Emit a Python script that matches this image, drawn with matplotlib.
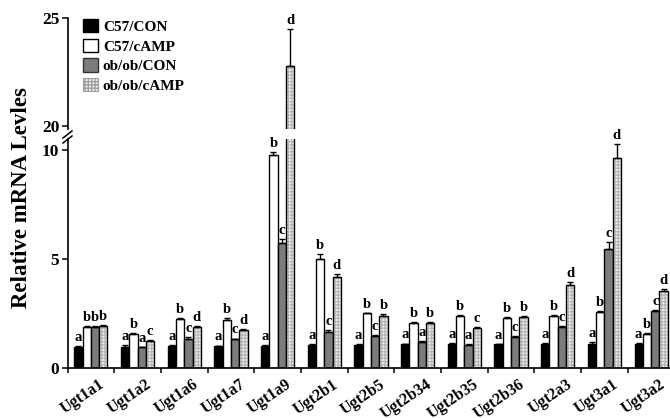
import matplotlib
matplotlib.use("Agg")
import matplotlib.pyplot as plt
import matplotlib.transforms as mtransforms
from matplotlib.patches import Patch
from matplotlib.lines import Line2D
import numpy as np

genes = ['Ugt1a1', 'Ugt1a2', 'Ugt1a6', 'Ugt1a7', 'Ugt1a9', 'Ugt2b1', 'Ugt2b5',
         'Ugt2b34', 'Ugt2b35', 'Ugt2b36', 'Ugt2a3', 'Ugt3a1', 'Ugt3a2']

c57_con = [0.98, 0.97, 1.02, 1.00, 1.03, 1.05, 1.05, 1.09, 1.12, 1.08, 1.11, 1.12, 1.12]
c57_camp = [1.89, 1.58, 2.26, 2.20, 9.75, 4.99, 2.51, 2.05, 2.37, 2.29, 2.40, 2.55, 1.58]
ob_con = [1.89, 0.94, 1.35, 1.31, 5.74, 1.66, 1.48, 1.19, 1.05, 1.43, 1.89, 5.44, 2.60]
ob_camp = [1.92, 1.25, 1.86, 1.75, 22.8, 4.17, 2.40, 2.05, 1.83, 2.32, 3.79, 9.61, 3.51]

c57_con_err = [0.03, 0.07, 0.03, 0.03, 0.04, 0.04, 0.03, 0.03, 0.04, 0.03, 0.03, 0.09, 0.04]
c57_camp_err = [0.03, 0.04, 0.04, 0.08, 0.15, 0.22, 0.03, 0.05, 0.04, 0.04, 0.04, 0.07, 0.04]
ob_con_err = [0.03, 0.03, 0.05, 0.04, 0.19, 0.08, 0.05, 0.05, 0.04, 0.04, 0.04, 0.32, 0.04]
ob_camp_err = [0.04, 0.04, 0.05, 0.04, 1.70, 0.12, 0.06, 0.06, 0.05, 0.05, 0.15, 0.64, 0.09]

c57_con_sig = list('aaaaaaaaaaaaa')
c57_camp_sig = list('bbbbbbbbbbbbb')
ob_con_sig = list('bacccccaacccc')
ob_camp_sig = list('bcddddbbcbddd')

series_names = ['C57/CON', 'C57/cAMP', 'ob/ob/CON', 'ob/ob/cAMP']

SERIF = ['Liberation Serif', 'DejaVu Serif']
LOW_MAX = 10.5
HIGH_MIN = 19.86

fig = plt.figure(figsize=(6.7, 4.18), dpi=100)
left = 67.5 / 670
width = 607 / 670
ax_lo = fig.add_axes([left, 50 / 418, width, (368 - 139) / 418])
ax_hi = fig.add_axes([left, (418 - 129) / 418, width, (129 - 18) / 418], sharex=ax_lo)

x = np.arange(len(genes))
bw = 0.178
offsets = np.array([-1.5, -0.5, 0.5, 1.5]) * bw

series = [c57_con, c57_camp, ob_con, ob_camp]
errs = [c57_con_err, c57_camp_err, ob_con_err, ob_camp_err]
sigs = [c57_con_sig, c57_camp_sig, ob_con_sig, ob_camp_sig]
faces = ['black', 'white', '#7c7c7c', '#f0f0f0']

for ax in (ax_lo, ax_hi):
    for k in range(4):
        vals = np.array(series[k])
        err = np.array(errs[k])
        if k == 3:
            # hatched fill first, black outline on top
            ax.bar(x + offsets[k], vals, bw, color=faces[k], edgecolor='#b8b8b8',
                   hatch='+++++', linewidth=0)
            ax.bar(x + offsets[k], vals, bw, fill=False, edgecolor='black', linewidth=1.0)
        else:
            ax.bar(x + offsets[k], vals, bw, color=faces[k], edgecolor='black', linewidth=1.0)
        ax.errorbar(x + offsets[k], vals, yerr=[np.zeros_like(err), err], fmt='none',
                    ecolor='black', elinewidth=1.0, capsize=2.2, capthick=1.0)

# significance letters
for k in range(4):
    for i in range(len(genes)):
        top = series[k][i] + errs[k][i]
        ax = ax_lo if top < LOW_MAX else ax_hi
        ax.annotate(sigs[k][i], (x[i] + offsets[k], top), xytext=(0, 1.5),
                    textcoords='offset points', ha='center', va='bottom',
                    fontsize=10.5, fontweight='bold', family=SERIF)

ax_lo.set_ylim(0, LOW_MAX)
ax_hi.set_ylim(HIGH_MIN, 25)
ax_lo.set_xlim(-0.5, 12.5)

ax_lo.set_yticks([0, 5, 10])
ax_hi.set_yticks([20, 25])

for ax in (ax_lo, ax_hi):
    ax.spines['right'].set_visible(False)
    ax.spines['top'].set_visible(False)
    ax.spines['left'].set_linewidth(1.2)
    ax.spines['bottom'].set_linewidth(1.2)
    ax.tick_params(axis='y', direction='out', length=4, width=1.1, pad=2)
    for lab in ax.get_yticklabels():
        lab.set_fontsize(12.5)
        lab.set_fontweight('bold')
        lab.set_family(SERIF)
    ax.patch.set_visible(False)

ax_hi.spines['bottom'].set_visible(False)
ax_hi.tick_params(axis='x', which='both', bottom=False, labelbottom=False)

ax_lo.set_xticks(x)
ax_lo.set_xticks(np.arange(-0.5, 13, 1.0), minor=True)
ax_lo.tick_params(axis='x', which='major', length=0, pad=6)
ax_lo.tick_params(axis='x', which='minor', length=3.5, width=1.1, direction='out')
ax_lo.set_xticklabels(genes, rotation=34, ha='right', rotation_mode='anchor',
                      fontsize=11.5, fontweight='bold', family=SERIF)
shift = mtransforms.ScaledTranslation(0.08, 0, fig.dpi_scale_trans)
for lab in ax_lo.get_xticklabels():
    lab.set_transform(lab.get_transform() + shift)

# axis break marks
for dy in (0, 5):
    y0 = (418 - 143 + dy) / 418
    fig.add_artist(Line2D([63 / 670, 72 / 670], [y0, y0 + 7 / 418],
                          color='black', linewidth=1.1, transform=fig.transFigure))

fig.text(22 / 670, (418 - 198) / 418, 'Relative mRNA Levles', rotation=90,
         ha='center', va='center', fontsize=16.5, fontweight='bold', family=SERIF)

handles = []
for k in range(4):
    if k == 3:
        handles.append(Patch(facecolor=faces[k], edgecolor='#a0a0a0', hatch='+++++', linewidth=0.8))
    else:
        handles.append(Patch(facecolor=faces[k], edgecolor='black' if k != 2 else '#333333',
                             linewidth=1.0))
leg = fig.legend(handles, series_names, loc='upper left',
                 bbox_to_anchor=(83 / 670, 1 - 19 / 418), bbox_transform=fig.transFigure,
                 frameon=False, handlelength=0.95, handleheight=0.95, labelspacing=0.32,
                 handletextpad=0.35, borderpad=0, borderaxespad=0,
                 prop={'family': SERIF, 'weight': 'bold', 'size': 11})

fig.savefig('out.png', dpi=100, facecolor='white')
